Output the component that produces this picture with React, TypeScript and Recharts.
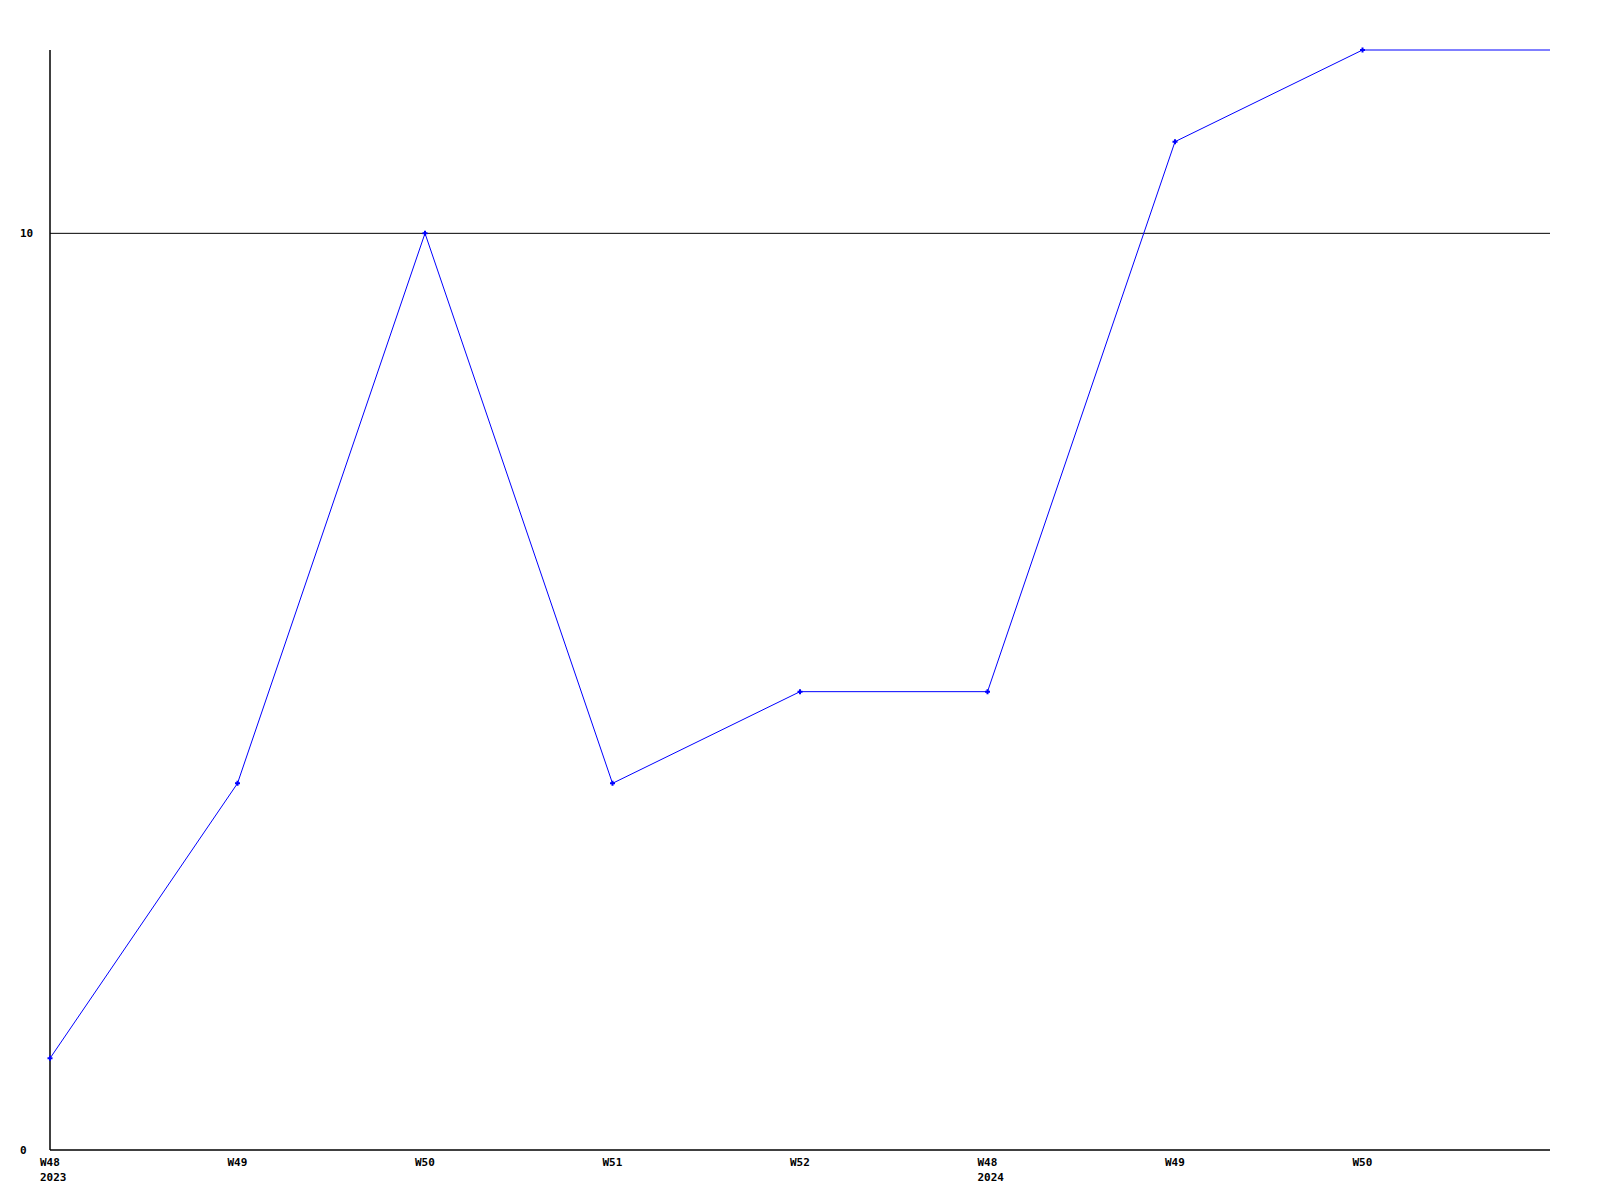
import React from 'react';
import { LineChart, Line, XAxis, YAxis, CartesianGrid } from 'recharts';

// semanas (a última não tem rótulo, só prolonga a linha)
const weeks = ['W48', 'W49', 'W50', 'W51', 'W52', 'W48', 'W49', 'W50', ''];
const years = ['2023', '', '', '', '', '2024', '', '', ''];
const values = [1, 4, 10, 4, 5, 5, 11, 12, 12];
const yTicks = [0, 10];

const data = weeks.map((w, i) => ({ key: i, week: w, year: years[i], value: values[i] }));

const FONT = '"DejaVu Sans Mono", monospace';

const XTick = (props: any) => {
  const { x, y, payload } = props;
  const row = data[payload.value];
  if (!row || !row.week) return null;
  return (
    <g>
      <text x={x - 10} y={y + 8} fontFamily={FONT} fontSize={11} fontWeight="bold" fill="#000" textAnchor="start">
        {row.week}
      </text>
      {row.year && (
        <text x={x - 10} y={y + 23} fontFamily={FONT} fontSize={11} fontWeight="bold" fill="#000" textAnchor="start">
          {row.year}
        </text>
      )}
    </g>
  );
};

const YTick = (props: any) => {
  const { y, payload } = props;
  return (
    <text x={20} y={y + 4} fontFamily={FONT} fontSize={11} fontWeight="bold" fill="#000" textAnchor="start">
      {payload.value}
    </text>
  );
};

const Dot = (props: any) => {
  const { cx, cy, index } = props;
  if (index === data.length - 1) return <g key={`d-${index}`} />;
  return (
    <path
      key={`d-${index}`}
      d={`M${cx - 2.5},${cy}L${cx + 2.5},${cy}M${cx},${cy - 2.5}L${cx},${cy + 2.5}`}
      stroke="#0000ff"
      strokeWidth={2}
    />
  );
};

export default function App() {
  return (
    <div style={{ position: 'absolute', left: 0, top: 0, background: '#fff' }}>
      <LineChart width={1600} height={1200} data={data} margin={{ top: 50, right: 50, bottom: 0, left: 0 }}>
        <CartesianGrid vertical={false} stroke="#000" strokeWidth={1} horizontalValues={[10]} />
        <XAxis
          dataKey="key"
          type="category"
          height={50}
          axisLine={{ stroke: '#000', strokeWidth: 1.5 }}
          tickLine={false}
          tick={<XTick />}
          interval={0}
        />
        <YAxis
          domain={[0, 12]}
          ticks={yTicks}
          width={50}
          axisLine={{ stroke: '#000', strokeWidth: 1.5 }}
          tickLine={false}
          tick={<YTick />}
        />
        <Line
          type="linear"
          dataKey="value"
          stroke="#0000ff"
          strokeWidth={1}
          dot={Dot}
          activeDot={false}
          isAnimationActive={false}
        />
      </LineChart>
    </div>
  );
}
